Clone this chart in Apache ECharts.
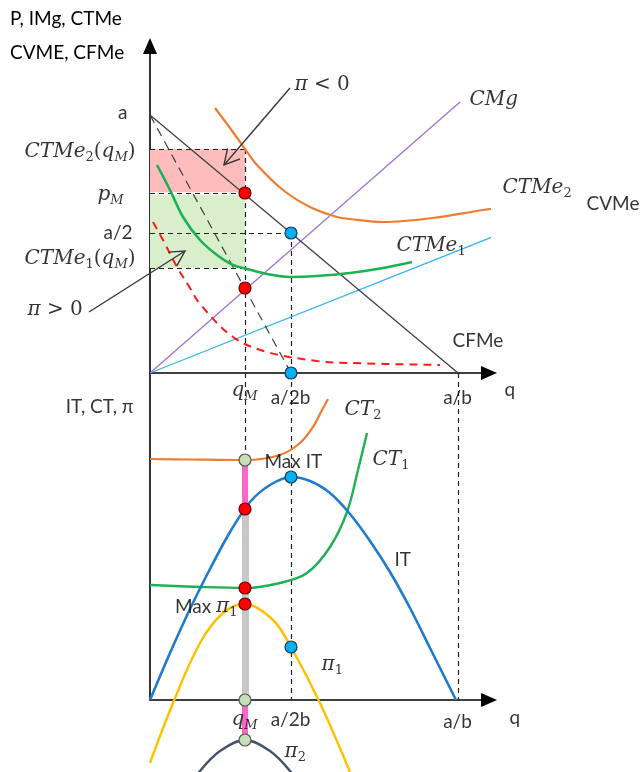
<!DOCTYPE html>
<html>
<head>
<meta charset="utf-8">
<script src="https://cdn.jsdelivr.net/npm/echarts@6/dist/echarts.min.js"></script>
<style>
html,body{margin:0;padding:0;background:#fff}
#chart{width:641px;height:772px}
</style>
</head>
<body>
<div id="chart"></div>
<script>
// ---- Monopoly: key quantities (q = output, money = price units) ----
const a = 25.8;          // demand intercept
const qAB = 30.8;        // a/b
const qA2B = 14.1;       // a/2b
const halfA = 14.0;      // a/2
const qM = 9.5;          // monopoly output
const pM = 18.0;         // monopoly price
const ctme2AtQM = 22.4;
const ctme1AtQM = 10.5;
const cmgAtQM = 8.5;

// upper panel curves
const demandLine = [[0, a], [qAB, 0]];
const imgLine = [[0, a], [qA2B, 0]];
const cmgLine = [[0, 0], [31.0, 27.1]];
const cvmeLine = [[0, 0], [42.8, 17.0]];
const ctme2Curve = [[6.5, 26.5], [8, 24.5], [9.5, 22.4], [10.7, 20.8], [13.3, 18.3], [16, 16.6], [18.7, 15.6], [20, 15.4], [23.3, 15.1], [28.3, 15.5], [33.3, 16.3], [36.7, 16.8]];
const ctme1Curve = [[0.7, 20.8], [2, 18.3], [3.3, 15.6], [5, 13.3], [6.7, 11.8], [8.3, 10.8], [9.7, 10.4], [11.7, 9.9], [14, 9.6], [16.7, 9.7], [20, 10.0], [23.3, 10.5], [26.2, 11.1]];
const cfmeCurve = [[0.3, 15.1], [1.3, 13.3], [2.7, 10.6], [4, 8.5], [5, 6.9], [8.3, 3.6], [11.7, 2.1], [16.7, 1.2], [20, 1.0], [29, 0.8]];

// lower panel: totals and profits
const itAtQM = 19.1, ct1AtQM = 11.2, ct2AtQM = 24.0;
const pi1Max = 9.6, pi2Max = -4.0, itMax = 22.3, pi1AtA2B = 5.3;
const itCurve = [[0, 0], [2, 4.7], [4, 9.1], [6, 13.1], [8, 16.8], [10, 19.8], [12, 21.5], [14.1, 22.3], [16, 21.9], [18, 20.7], [20, 18.6], [22, 15.9], [24, 12.8], [26, 9.2], [28, 5.2], [30.6, 0]];
const ct2Curve = [[0, 24.1], [4, 24.05], [9.5, 24.0], [13, 24.5], [15, 25.7], [16.3, 27.3], [17.2, 29], [17.8, 30.1]];
const ct1Curve = [[0, 11.5], [5, 11.3], [9.5, 11.2], [13, 11.7], [15.7, 12.7], [18, 15.3], [19.7, 18.8], [20.8, 23], [21.7, 26.7]];
const pi1Curve = [[0, -6.3], [2.3, -0.3], [5, 5.7], [7.3, 8.7], [9.5, 9.6], [12.3, 8], [14.1, 5.3], [17, -0.3], [20, -7.2]];
const pi2Curve = [[3, -10], [5, -7.1], [7, -5.1], [9.5, -4.0], [12, -5.1], [14, -7.1], [16, -10]];

const X_MAX = 33.9;
const TOP_YMIN = -32.7, TOP_YMAX = 32.7;
const BOT_YMIN = -7.2, BOT_YMAX = 32.7;

const SANS = 'Lato';
const SERIF = 'DejaVu Serif';
const C = {
  demand: '#404040', cmg: '#a072d6', cvme: '#33b6ee', orange: '#ed7d31', green: '#1db154',
  cfme: '#ff1a1a', it: '#1f7bcc', pi1: '#ffc000', pi2: '#44546a',
  pinkFill: '#ffbcbc', greenFill: '#d9eecb', pinkBar: '#ff66cc', greyBar: '#c8c8c8'
};

const RICH = {
  m: { fontFamily: SERIF, fontStyle: 'italic', fontSize: 20, color: '#000' },
  s: { fontFamily: SERIF, fontStyle: 'italic', fontSize: 13, color: '#000', verticalAlign: 'bottom', lineHeight: 25 },
  n: { fontFamily: SERIF, fontSize: 13, color: '#000', verticalAlign: 'bottom', lineHeight: 25 },
  r: { fontFamily: SERIF, fontSize: 20, color: '#000' },
  t: { fontFamily: SANS, fontSize: 19, color: '#000' }
};

function curve(xi, data, color, width, extra) {
  return Object.assign({
    type: 'line', xAxisIndex: xi, yAxisIndex: xi, data: data, symbol: 'none',
    clip: false, silent: true, smooth: 0.35, z: 3,
    lineStyle: { color: color, width: width }
  }, extra || {});
}

function segments(xi, segs, color, width, type, z) {
  return {
    type: 'lines', coordinateSystem: 'cartesian2d', xAxisIndex: xi, yAxisIndex: xi,
    silent: true, z: z || 2, clip: false,
    lineStyle: { color: color, width: width, type: type, cap: 'butt', opacity: 1 },
    data: segs.map(s => ({ coords: s }))
  };
}

function dots(xi, pts, fill, stroke) {
  return {
    type: 'scatter', xAxisIndex: xi, yAxisIndex: xi, data: pts, symbolSize: 12, z: 8,
    clip: false, silent: true,
    itemStyle: { color: fill, borderColor: stroke, borderWidth: 1.2, opacity: 1 }
  };
}

function rects(xi, boxes, fills) {
  return {
    type: 'custom', xAxisIndex: xi, yAxisIndex: xi, data: boxes, z: 1, clip: false, silent: true,
    renderItem: function (params, api) {
      const p1 = api.coord([api.value(0), api.value(1)]);
      const p2 = api.coord([api.value(2), api.value(3)]);
      return {
        type: 'rect',
        shape: { x: Math.min(p1[0], p2[0]), y: Math.min(p1[1], p2[1]), width: Math.abs(p2[0] - p1[0]), height: Math.abs(p2[1] - p1[1]) },
        style: { fill: fills[params.dataIndex] }
      };
    }
  };
}

function arrows(xi, list) {
  return {
    type: 'custom', xAxisIndex: xi, yAxisIndex: xi, data: list, z: 6, clip: false, silent: true,
    renderItem: function (params, api) {
      const p1 = api.coord([api.value(0), api.value(1)]);
      const p2 = api.coord([api.value(2), api.value(3)]);
      const ang = Math.atan2(p2[1] - p1[1], p2[0] - p1[0]);
      const L = 17, w = 0.5;
      const h1 = [p2[0] - L * Math.cos(ang - w), p2[1] - L * Math.sin(ang - w)];
      const h2 = [p2[0] - L * Math.cos(ang + w), p2[1] - L * Math.sin(ang + w)];
      const st = { stroke: '#3a3a3a', lineWidth: 1.4, fill: null };
      return {
        type: 'group', children: [
          { type: 'line', shape: { x1: p1[0], y1: p1[1], x2: p2[0], y2: p2[1] }, style: st },
          { type: 'polyline', shape: { points: [h1, p2, h2] }, style: st }
        ]
      };
    }
  };
}

function labels(xi, items) {
  return {
    type: 'scatter', xAxisIndex: xi, yAxisIndex: xi, symbolSize: 1, z: 10, clip: false, silent: true,
    itemStyle: { color: 'rgba(0,0,0,0)' },
    data: items.map(it => ({
      value: it[0],
      label: {
        show: true, position: [0, 0], formatter: it[1], align: it[2] || 'left', verticalAlign: 'middle',
        fontFamily: SANS, fontSize: 19, color: '#000', rich: RICH
      }
    }))
  };
}

const topLabels = [
  [[-2.2, 26.0], 'a', 'right'],
  [[-1.4, 22.1], '{m|CTMe}{n|2}{r|(}{m|q}{s|M}{r|)}', 'right'],
  [[-2.6, 17.8], '{m|p}{s|M}', 'right'],
  [[-1.7, 14.0], 'a/2', 'right'],
  [[-1.4, 11.4], '{m|CTMe}{n|1}{r|(}{m|q}{s|M}{r|)}', 'right'],
  [[-12.2, 6.3], '{m|π}{r| > 0}', 'left'],
  [[14.5, 28.8], '{m|π}{r| < 0}', 'left'],
  [[32.0, 27.3], '{m|CMg}', 'left'],
  [[35.3, 18.5], '{m|CTMe}{n|2}', 'left'],
  [[43.7, 16.9], 'CVMe', 'left'],
  [[24.7, 12.7], '{m|CTMe}{n|1}', 'left'],
  [[30.3, 3.2], 'CFMe', 'left'],
  [[35.5, -1.7], 'q', 'left'],
  [[9.5, -1.8], '{m|q}{s|M}', 'center'],
  [[14.1, -2.5], 'a/2b', 'center'],
  [[30.8, -2.5], 'a/b', 'center']
];

const botLabels = [
  [[-1.6, 29.3], 'IT, CT, π', 'right'],
  [[19.5, 29.0], '{m|CT}{n|2}', 'left'],
  [[22.3, 24.0], '{m|CT}{n|1}', 'left'],
  [[11.5, 23.8], 'Max IT', 'left'],
  [[24.5, 14.0], 'IT', 'left'],
  [[8.8, 9.3], 'Max {m|π}{n|1}', 'right'],
  [[17.2, 3.5], '{m|π}{n|1}', 'left'],
  [[13.5, -5.2], '{m|π}{n|2}', 'left'],
  [[36.0, -1.8], 'q', 'left'],
  [[9.5, -2.0], '{m|q}{s|M}', 'center'],
  [[14.1, -2.0], 'a/2b', 'center'],
  [[30.8, -2.2], 'a/b', 'center']
];

const axisArrow = { show: true, onZero: true, symbol: ['none', 'triangle'], symbolSize: [14, 16], lineStyle: { color: '#000', width: 1.6 } };
function xAx(gi) {
  return { type: 'value', gridIndex: gi, min: 0, max: X_MAX, axisLine: axisArrow, axisTick: { show: false }, axisLabel: { show: false }, splitLine: { show: false } };
}

const option = {
  animation: false,
  backgroundColor: '#fff',
  grid: [
    { left: 150, top: 46, width: 339, height: 654 },
    { left: 150, top: 373, width: 339, height: 399 }
  ],
  xAxis: [xAx(0), xAx(1)],
  yAxis: [
    { type: 'value', gridIndex: 0, min: TOP_YMIN, max: TOP_YMAX, axisLine: axisArrow, axisTick: { show: false }, axisLabel: { show: false }, splitLine: { show: false } },
    { type: 'value', gridIndex: 1, min: BOT_YMIN, max: BOT_YMAX, axisLine: { show: false }, axisTick: { show: false }, axisLabel: { show: false }, splitLine: { show: false } }
  ],
  graphic: [
    { type: 'text', left: 10, top: 9, style: { text: 'P, IMg, CTMe', font: '19px Lato', fill: '#000' } },
    { type: 'text', left: 10, top: 43, style: { text: 'CVME, CFMe', font: '19px Lato', fill: '#000' } }
  ],
  series: [
    // profit / loss rectangles
    rects(0, [[0, pM, qM, ctme2AtQM], [0, ctme1AtQM, qM, pM]], [C.pinkFill, C.greenFill]),
    // thin white seam between the two rectangles
    segments(0, [[[0, pM], [qM, pM]]], '#ffffff', 2.5, 'solid', 1),
    // dashed guides, upper panel
    segments(0, [
      [[0, ctme2AtQM], [qM, ctme2AtQM]],
      [[0, pM], [qM, pM]],
      [[0, halfA], [qA2B, halfA]],
      [[0, ctme1AtQM], [qM, ctme1AtQM]],
      [[qM, ctme2AtQM], [qM, 0]],
      [[qA2B, halfA], [qA2B, 0]]
    ], '#222', 1.2, [5, 4]),
    // dashed guides, lower panel
    segments(1, [
      [[qM, BOT_YMAX], [qM, ct2AtQM]],
      [[qA2B, BOT_YMAX], [qA2B, 0]],
      [[qAB, BOT_YMAX], [qAB, 0]]
    ], '#222', 1.2, [5, 4]),
    // upper panel curves
    curve(0, cvmeLine, C.cvme, 1.3, { smooth: false }),
    curve(0, cmgLine, C.cmg, 1.3, { smooth: false }),
    curve(0, cfmeCurve, C.cfme, 2, { lineStyle: { color: C.cfme, width: 2, type: [8, 6] } }),
    curve(0, imgLine, C.demand, 1.2, { smooth: false, lineStyle: { color: C.demand, width: 1.2, type: [9, 6] } }),
    curve(0, demandLine, C.demand, 1.3, { smooth: false }),
    curve(0, ctme2Curve, C.orange, 2.2),
    curve(0, ctme1Curve, C.green, 2.6),
    // lower panel curves
    curve(1, ct2Curve, C.orange, 2.2),
    curve(1, ct1Curve, C.green, 2.4),
    curve(1, itCurve, C.it, 2.6, { smooth: 0.3 }),
    curve(1, pi1Curve, C.pi1, 2.4),
    curve(1, pi2Curve, C.pi2, 2.4),
    // vertical profit bars at q_M
    segments(1, [[[qM, itAtQM], [qM, 0]]], C.greyBar, 7, 'solid', 4),
    segments(1, [[[qM, ct2AtQM], [qM, itAtQM]], [[qM, 0], [qM, pi2Max]]], C.pinkBar, 6, 'solid', 4),
    // callout arrows
    arrows(0, [[14.0, 28.5, 7.4, 20.8], [-6.1, 6.1, 3.5, 12.2]]),
    // points
    dots(0, [[qM, pM], [qM, cmgAtQM]], '#ff0000', '#6b0000'),
    dots(0, [[qA2B, halfA], [qA2B, 0]], '#00b0f0', '#1d3a55'),
    dots(1, [[qM, itAtQM], [qM, ct1AtQM], [qM, pi1Max]], '#ff0000', '#6b0000'),
    dots(1, [[qA2B, itMax], [qA2B, pi1AtA2B]], '#00b0f0', '#1d3a55'),
    dots(1, [[qM, ct2AtQM], [qM, 0], [qM, pi2Max]], '#c5e0b4', '#555'),
    // text
    labels(0, topLabels),
    labels(1, botLabels)
  ]
};

const chart = echarts.init(document.getElementById('chart'), null, { renderer: 'canvas' });
chart.setOption(option);
</script>
</body>
</html>
